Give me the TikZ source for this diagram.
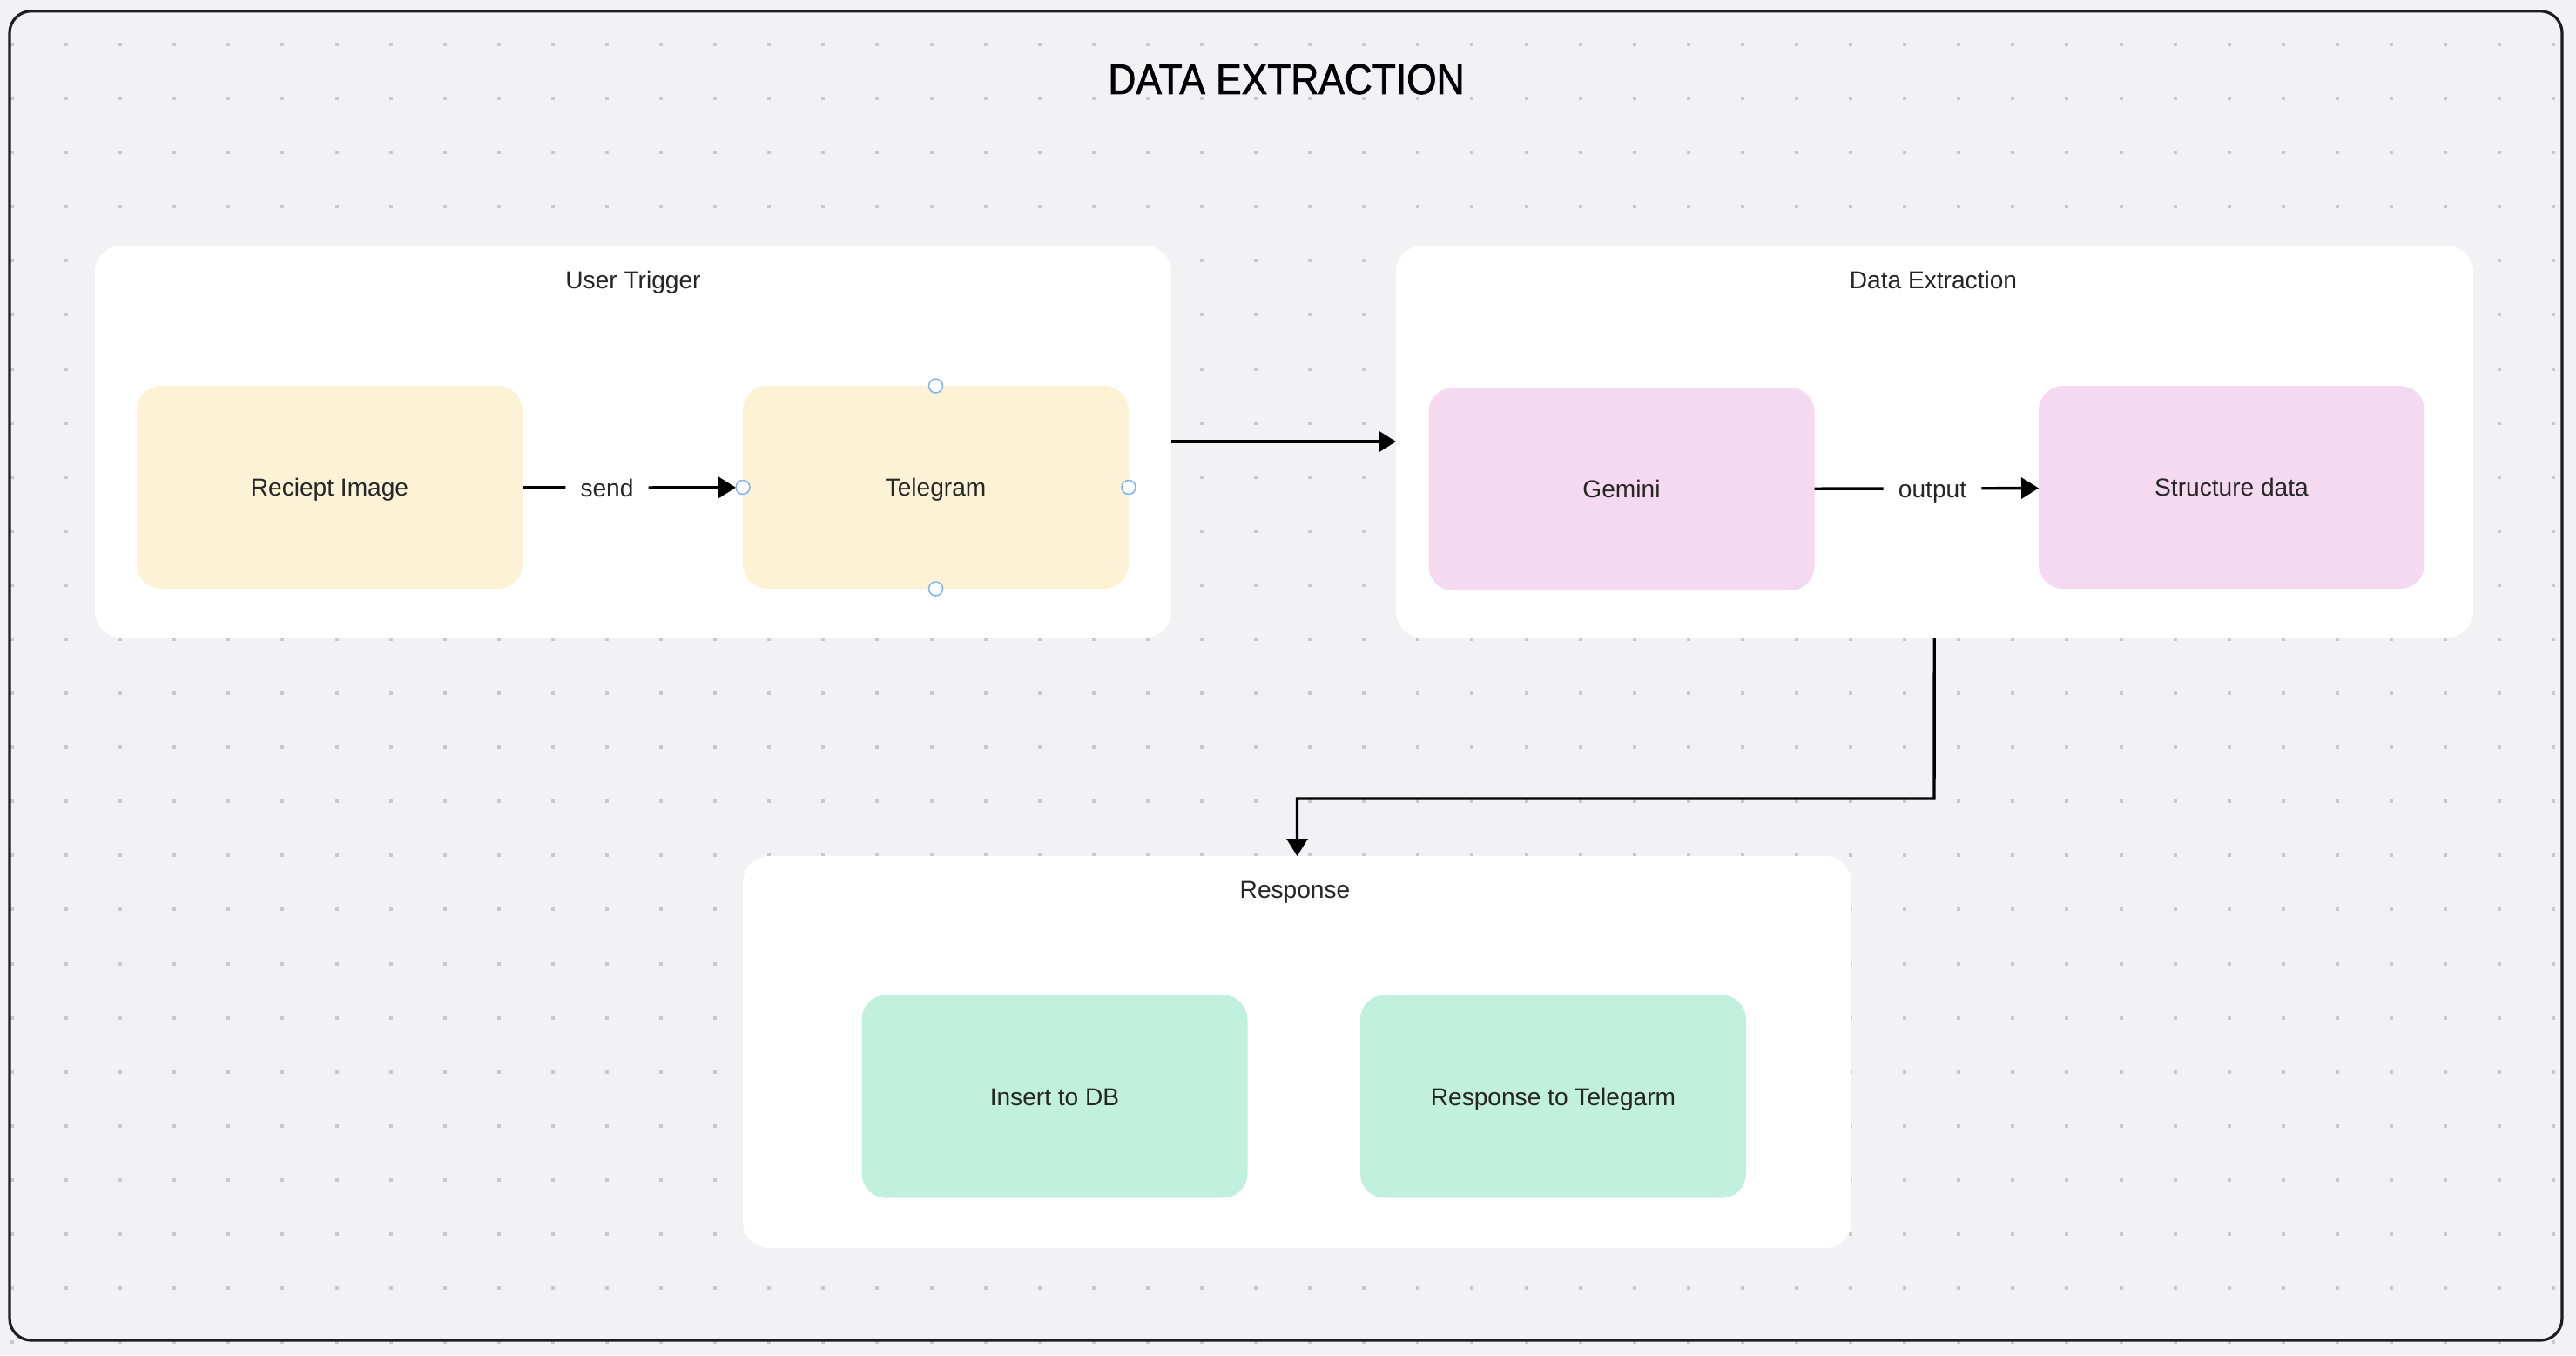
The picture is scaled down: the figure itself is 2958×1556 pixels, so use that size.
\documentclass[tikz,border=0pt]{standalone}
\usepackage{fontspec}
\setmainfont{Liberation Sans}
\newfontfamily\titlefont{Liberation Sans}[FakeBold=1.4,FakeStretch=0.9]
\usetikzlibrary{arrows.meta}
\definecolor{canvas}{HTML}{F2F2F4}
\definecolor{griddot}{HTML}{C9C9CC}
\definecolor{framec}{HTML}{1E1E1E}
\definecolor{ink}{HTML}{262626}
\definecolor{userc}{HTML}{FCF3D7}
\definecolor{extc}{HTML}{F5D9F0}
\definecolor{respc}{HTML}{C1F0DE}
\definecolor{handlec}{HTML}{7EB2F2}

\begin{document}
\begin{tikzpicture}[x=0.1mm,y=-0.1mm,font=\fontsize{8}{10}\selectfont,
	panel/.style={fill=white,rounded corners=3mm,minimum height=45mm,outer sep=0pt},
	card/.style={rounded corners=2.8mm,minimum width=44.3mm,minimum height=23.3mm,outer sep=0pt,text=ink,text height=5.7pt,text depth=0pt},
	caption/.style={text=ink,text height=5.7pt,text depth=0pt},
	edgelbl/.style={text=ink,inner xsep=1.65mm,text height=5.7pt,text depth=0pt},
	flow/.style={line width=0.34mm,-{Triangle[length=2mm,width=2.4mm]}},
	plain/.style={line width=0.34mm},
	handle/.style={draw=handlec,fill=white,line width=0.15mm}]
	\def\gap{62.09}
	% canvas and dot grid
	\fill[canvas] (0,0) rectangle (2958,1556);
	\useasboundingbox (0,0) rectangle (2958,1556);
	\foreach \i in {0,...,47}
	  \foreach \j in {0,...,24}
	    \fill[griddot] ({12+\gap*\i},{49+\gap*\j}) rectangle +(4,4);
	\draw[framec,line width=0.32mm,rounded corners=2.5mm] (11,12.7) rectangle (2942,1539);
	\node (title) at (1477,91) {\titlefont\fontsize{14}{16}\selectfont DATA EXTRACTION};

	% groups
	\node[panel,minimum width=123.6mm] (trig) at (727,507) {};
	\node[panel,minimum width=123.7mm] (ext) at (2221.5,507) {};
	\node[panel,minimum width=127.3mm] (resp) at (1489.5,1208) {};
	\node[caption] (trig-lbl) at (727,321) {User Trigger};
	\node[caption] (ext-lbl) at (2220,321) {Data Extraction};
	\node[caption] (resp-lbl) at (1487,1021) {Response};

	% cards
	\node[card,fill=userc] (receipt) at (378.5,559.5) {Reciept Image};
	\node[card,fill=userc] (tele) at (1074.5,559.5) {Telegram};
	\node[card,fill=extc] (gem) at (1862,561.5) {Gemini};
	\node[card,fill=extc] (struct) at (2562.5,559.5) {Structure data};
	\node[card,fill=respc] (dbins) at (1211,1259) {Insert to DB};
	\node[card,fill=respc] (tgreply) at (1783.5,1259) {Response to Telegarm};

	% connectors
	\node[edgelbl] (send) at (697,560) {send};
	\draw[plain] (receipt) -- (send);
	\draw[flow,shorten >=0.8mm] (send) -- (tele);
	\node[edgelbl] (out) at (2219,561) {output};
	\draw[plain] (gem) -- (out);
	\draw[flow] (out) -- (struct);
	\draw[flow] (trig) -- (ext);
	\coordinate (elbow) at (2221,917);
	\draw[flow] (ext) -- (elbow) -| (resp);

	% selection handles on Telegram
	\foreach \a in {north,south,east,west}
	  \draw[handle] (tele.\a) circle [radius=0.8mm];
\end{tikzpicture}
\end{document}
